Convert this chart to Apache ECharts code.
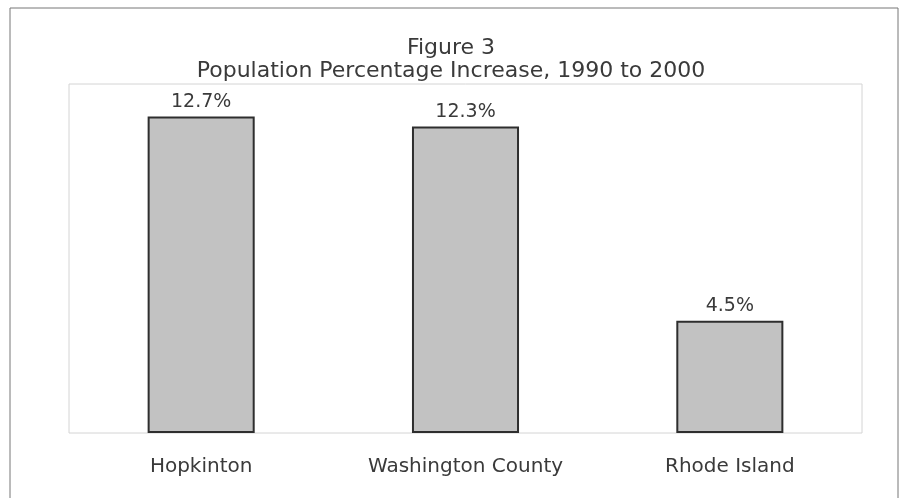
<!DOCTYPE html>
<html>
<head>
<meta charset="utf-8">
<script src="https://cdn.jsdelivr.net/npm/echarts@6/dist/echarts.min.js"></script>
<style>
  html, body { margin: 0; padding: 0; background: #fff; }
  #chart { width: 902px; height: 498px; }
</style>
</head>
<body>
<div id="chart"></div>
<script>
const categories = ['Hopkinton', 'Washington County', 'Rhode Island'];
const increase = [12.7, 12.3, 4.5];

const chart = echarts.init(document.getElementById('chart'));
const font = 'DejaVu Sans';

const option = {
  backgroundColor: '#fff',
  textStyle: { fontFamily: font },
  title: {
    text: 'Figure 3\nPopulation Percentage Increase, 1990 to 2000',
    left: 'center',
    top: 32,
    textStyle: { fontFamily: font, fontSize: 22, fontWeight: 'normal', color: '#3a3a3a', lineHeight: 23 }
  },
  graphic: [
    {
      type: 'rect',
      shape: { x: 10, y: 8, width: 888, height: 500 },
      style: { fill: 'none', stroke: '#777', lineWidth: 1 },
      silent: true
    }
  ],
  grid: {
    left: 69, right: 40, top: 84, bottom: 65,
    show: true, borderColor: '#d4d4d4', borderWidth: 1
  },
  xAxis: {
    type: 'category',
    data: categories,
    axisLine: { show: false },
    axisTick: { show: false },
    axisLabel: { fontFamily: font, fontSize: 20, color: '#3a3a3a', margin: 24 }
  },
  yAxis: {
    type: 'value',
    min: 0,
    max: 14,
    show: false,
    splitLine: { show: false }
  },
  series: [
    {
      type: 'bar',
      data: increase,
      barWidth: '40.5%',
      itemStyle: { color: '#c2c2c2', borderColor: '#2e2e2e', borderWidth: 2 },
      label: {
        show: true,
        position: 'top',
        distance: 5,
        formatter: p => p.value.toFixed(1) + '%',
        fontFamily: font,
        fontSize: 19,
        color: '#3a3a3a'
      }
    }
  ]
};

chart.setOption(option);
</script>
</body>
</html>
